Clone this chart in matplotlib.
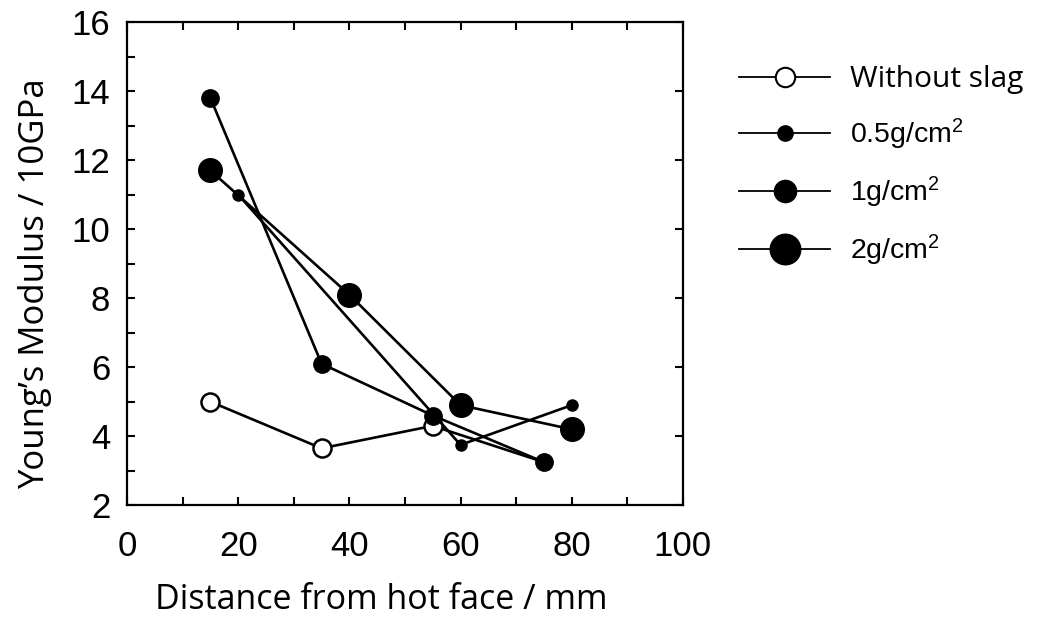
import matplotlib
matplotlib.use("Agg")
import matplotlib.pyplot as plt
from matplotlib.ticker import MultipleLocator
from matplotlib.lines import Line2D

plt.rcParams['mathtext.default'] = 'regular'

# data
x_none = [15, 35, 55, 75]
y_none = [5.0, 3.65, 4.3, 3.25]
x_05 = [20, 60, 80]
y_05 = [11.0, 3.75, 4.9]
x_1 = [15, 35, 55, 75]
y_1 = [13.8, 6.1, 4.6, 3.25]
x_2 = [15, 40, 60, 80]
y_2 = [11.7, 8.1, 4.9, 4.2]

labels = ['Without slag', '0.5g/cm$^2$', '1g/cm$^2$', '2g/cm$^2$']
xticks = [0, 20, 40, 60, 80, 100]
yticks = [2, 4, 6, 8, 10, 12, 14, 16]

fig = plt.figure(figsize=(10.37, 6.3), dpi=100)
ax = fig.add_axes([0.1225, 0.198, 0.536, 0.767])

lw = 1.9
ax.plot(x_none, y_none, '-o', color='black', lw=lw, mfc='white', mec='black',
        mew=1.8, ms=13, markevery=[0, 1, 2], zorder=2)
ax.plot(x_05, y_05, '-o', color='black', lw=lw, ms=8, zorder=3)
ax.plot(x_1, y_1, '-o', color='black', lw=lw, ms=12.5, zorder=3)
ax.plot(x_2, y_2, '-o', color='black', lw=lw, ms=17, zorder=3)

ax.set_xlim(0, 100)
ax.set_ylim(2, 16)
ax.set_xticks(xticks)
ax.set_yticks(yticks)
ax.xaxis.set_minor_locator(MultipleLocator(10))
ax.yaxis.set_minor_locator(MultipleLocator(1))
ax.tick_params(which='both', direction='in', length=5.5, width=1.5,
               top=True, right=True, bottom=True, left=True)
ax.tick_params(which='minor', right=False)
ax.tick_params(axis='x', which='major', pad=18)
ax.tick_params(axis='y', which='major', pad=12)
for t in ax.get_xticklabels() + ax.get_yticklabels():
    t.set_fontfamily('Liberation Sans')
    t.set_fontsize(25)
for s in ax.spines.values():
    s.set_linewidth(1.6)

fig.text(0.368, 0.047, 'Distance from hot face / mm', ha='center', va='center',
         fontsize=24.5, family='Open Sans')
fig.text(0.034, 0.55, 'Young\u2019s Modulus / 10GPa', ha='center', va='center',
         rotation=90, fontsize=25, family='Open Sans')

# legend with a marker in the middle of each line
h0 = Line2D([0], [0], color='black', lw=1.3, marker='o', mfc='white', mec='black', mew=1.5, ms=14)
h1 = Line2D([0], [0], color='black', lw=1.3, marker='o', ms=11)
h2 = Line2D([0], [0], color='black', lw=1.3, marker='o', ms=16)
h3 = Line2D([0], [0], color='black', lw=1.3, marker='o', ms=22)
leg = fig.legend([h0, h1, h2, h3], labels, loc='upper left', bbox_to_anchor=(0.702, 0.915),
                 frameon=False, fontsize=20.5, handlelength=3.2, handletextpad=0.7,
                 labelspacing=0.8, borderaxespad=0)
for i, t in enumerate(leg.get_texts()):
    t.set_fontfamily('Open Sans' if i == 0 else 'Liberation Sans')
leg.get_texts()[0].set_fontsize(21.5)

fig.savefig('out.png', dpi=100)
